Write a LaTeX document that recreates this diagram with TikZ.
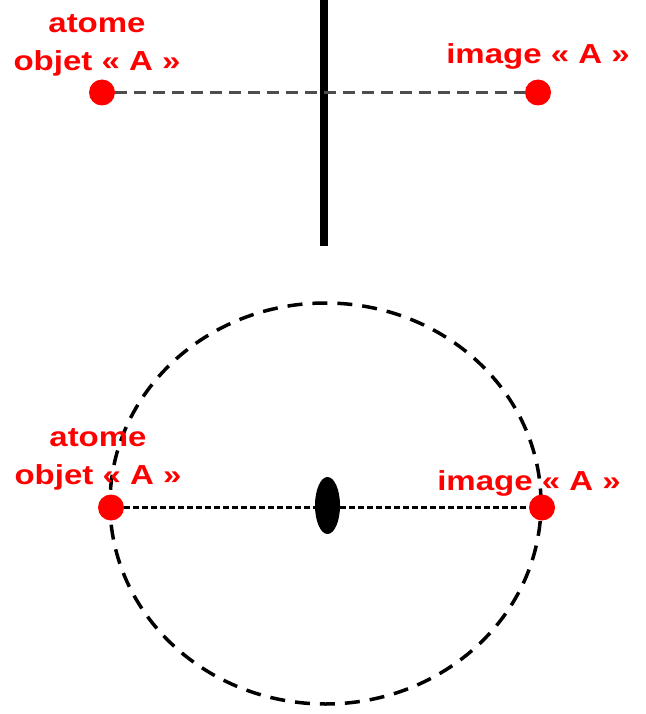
\documentclass[tikz,border=0pt]{standalone}
\usepackage{fontspec}
\newfontfamily\labelfont{Liberation Sans}[FakeStretch=1.2]
\usepackage{xcolor}
\definecolor{atomred}{HTML}{FF0000}
\definecolor{lightgray}{HTML}{4D4D4D}
\usepackage{tikz}
\usetikzlibrary{shapes.geometric, positioning}

\begin{document}
\begin{tikzpicture}[
  x=1pt, y=-1pt,
  every node/.style={inner sep=0pt},
  lbl/.style={text=atomred, font=\labelfont\bfseries\fontsize{27.5}{38}\selectfont, align=center},
  atom/.style={circle, fill=atomred, minimum size=26pt},
  mirrorline/.style={line width=8pt, black},
  link/.style={lightgray, line width=2.6pt, dash pattern=on 12pt off 7pt},
  axisline/.style={black, line width=3pt, dash pattern=on 6pt off 3pt},
]
\useasboundingbox (0,0) rectangle (645,714);

% mirror plane
\coordinate (mtop) at (324,0);
\coordinate (mbot) at (324,246);
\draw[mirrorline] (mtop) -- (mbot);

\node[atom] (objA) at (102,92.5) {};
\node[atom] (imgA) at (538,92.5) {};
\draw[link] (objA) -- (imgA);

\node[lbl] (objlbl) at (97,45) {atome\\objet « A »};
\node[lbl, anchor=base] (imglbl) at (538,64) {image « A »};

% inversion centre
\node[draw=black, ellipse, dashed, line width=3.5pt, dash pattern=on 15pt off 10pt,
      minimum width=431pt, minimum height=401pt] (orbit) at (325.5,503.5) {};
\node[ellipse, fill=black, minimum width=25pt, minimum height=57pt] (centre) at (327.5,505.5) {};

\node[atom] (objB) at (111,507.5) {};
\node[atom] (imgB) at (542,507.5) {};
\draw[axisline] (objB) -- (imgB);

\node[lbl] (objlblB) at (98,459) {atome\\objet « A »};
\node[lbl, anchor=base] (imglblB) at (529,490) {image « A »};

\end{tikzpicture}
\end{document}
